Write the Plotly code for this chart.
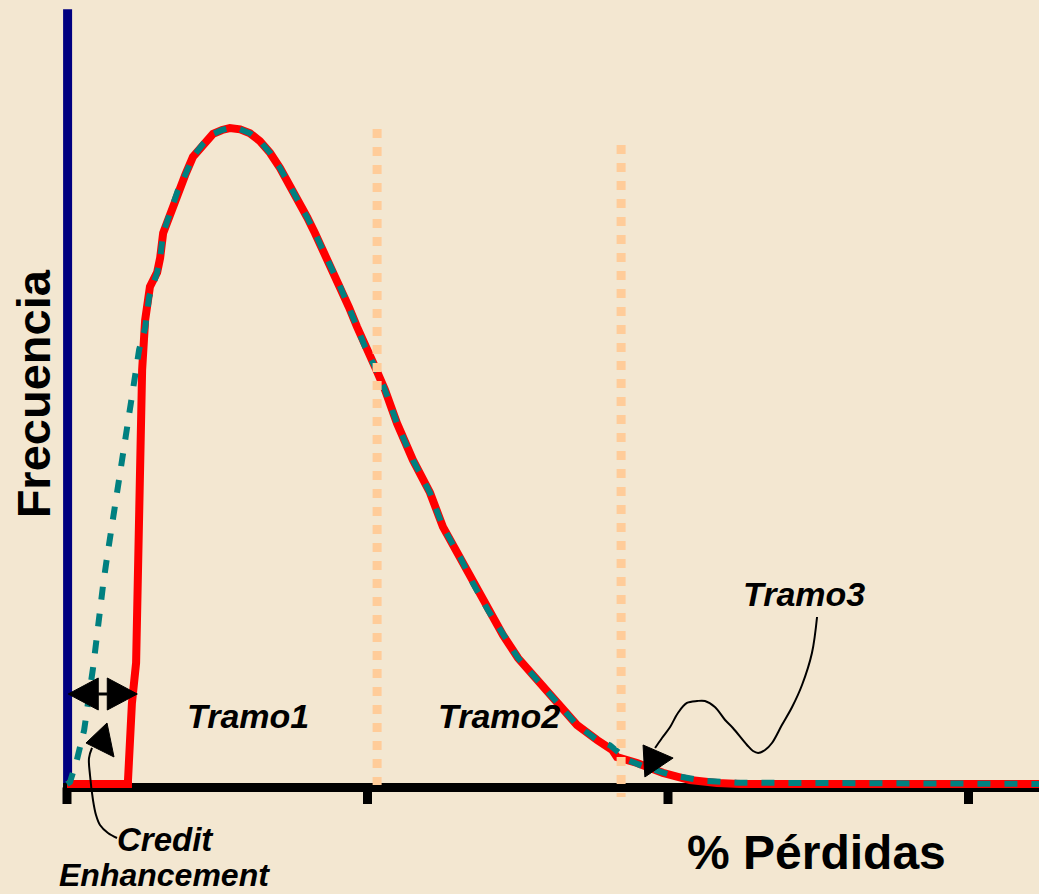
import plotly.graph_objects as go

# ---------------- data ----------------
# x: % pérdidas (ticks at 0, 10, 20, 30), y: frecuencia (peak = 100)
perdida_rojo = [0, 2.03, 2.03, 2.16, 2.30, 2.36, 2.43, 2.50, 2.60, 2.76, 3.00, 3.10, 3.20, 3.43,
                3.69, 3.93, 4.19, 4.53, 4.86, 5.16, 5.42, 5.76, 6.09, 6.42, 6.76, 7.09, 7.42, 7.75,
                7.99, 8.25, 8.52, 8.82, 9.09, 9.38, 9.65, 9.92, 10.25, 10.58, 10.98, 11.51, 12.08,
                12.51, 13.08, 13.51, 14.01, 14.51, 15.01, 15.64, 16.31, 16.97, 17.64, 18.14, 18.30,
                18.97, 19.83, 20.73, 21.63, 22.40, 33.0]
frec_rojo = [0, 0, 0.6, 12.3, 18.5, 37.7, 52.9, 63.1, 70.7, 75.8, 78.0, 80.2, 84.0, 87.0, 90.5,
             92.8, 95.6, 97.6, 99.1, 99.7, 100, 99.8, 99.2, 98.0, 96.2, 93.9, 91.3, 88.6, 86.4,
             84.0, 81.4, 78.7, 75.8, 72.7, 69.7, 66.6, 63.6, 60.1, 55.0, 49.4, 44.4, 39.2, 34.6,
             30.6, 26.5, 22.7, 19.2, 15.9, 12.3, 9.0, 6.7, 5.2, 4.1, 3.2, 1.7, 0.6, 0.15, 0, 0]

perdida_verde = [0.0, 0.10, 0.33, 0.57, 0.87, 1.03, 1.20, 1.33, 1.53, 1.70, 1.90, 2.03, 2.20, 2.40,
                 2.60, 2.73, 3.00, 3.10, 3.20, 3.43, 3.69, 3.93, 4.19, 4.53, 4.86, 5.16, 5.42, 5.76,
                 6.09, 6.42, 6.76, 7.09, 7.42, 7.75, 7.99, 8.25, 8.52, 8.82, 9.09, 9.38, 9.65, 9.92,
                 10.25, 10.58, 10.98, 11.51, 12.08, 12.51, 13.08, 13.51, 14.01, 14.51, 15.01, 15.64,
                 16.31, 16.97, 17.64, 18.07, 18.64, 19.17, 20.07, 21.16, 22.30, 33.0]
frec_verde = [0.0, 0.3, 3.7, 8.2, 17.8, 24.5, 30.3, 34.5, 40.5, 46.6, 51.2, 55.9, 61.6, 66.2, 69.5,
              74.2, 78.0, 80.2, 84.0, 87.0, 90.5, 92.8, 95.6, 97.6, 99.1, 99.7, 100, 99.8, 99.2,
              98.0, 96.2, 93.9, 91.3, 88.6, 86.4, 84.0, 81.4, 78.7, 75.8, 72.7, 69.7, 66.6, 63.6,
              60.1, 55.0, 49.4, 44.4, 39.2, 34.6, 30.6, 26.5, 22.7, 19.2, 15.9, 12.3, 9.0, 6.7,
              5.9, 3.7, 2.7, 1.4, 0.5, 0.2, 0.0]

tick_vals = [0, 10, 20, 30]
tramo_limites = [10.32, 18.44]          # attachment points (dotted lines)
credit_enhancement = [0.04, 2.34]       # span of the double arrow

labels = {"tramo1": "Tramo1", "tramo2": "Tramo2", "tramo3": "Tramo3",
          "credit": "Credit", "enh": "Enhancement",
          "xtitle": "% Pérdidas", "ytitle": "Frecuencia"}

# ---------------- styling ----------------
BG = "#F3E7D1"
RED = "#FF0000"
TEAL = "#008080"
PEACH = "#FFCC99"
NAVY = "#000080"
FONT = "Liberation Sans, Arial, sans-serif"

X_RANGE = [-2.2296, 32.346]
Y_RANGE = [-16.768, 119.512]


def tri(pts):
    return "M " + " L ".join(f"{x},{y}" for x, y in pts) + " Z"


fig = go.Figure()

fig.add_trace(go.Scatter(x=perdida_rojo, y=frec_rojo, mode="lines",
                         line=dict(color=RED, width=8), hoverinfo="skip"))
fig.add_trace(go.Scatter(x=perdida_verde, y=frec_verde, mode="lines",
                         line=dict(color=TEAL, width=6, dash="13px,14px"), hoverinfo="skip"))

# connector curves of the callouts
credit_curve_x = [1.664, 1.364, 1.098, 0.965, 0.865, 0.765, 0.732, 0.832]
credit_curve_y = [-8.23, -7.47, -6.25, -4.73, -2.44, 1.37, 3.96, 5.49]
fig.add_trace(go.Scatter(x=credit_curve_x, y=credit_curve_y, mode="lines",
                         line=dict(color="black", width=2, shape="spline"), hoverinfo="skip"))
tramo3_curve_x = [24.96, 24.79, 24.46, 24.13, 23.79, 23.46, 23.23, 23.00, 22.83, 22.63, 22.16,
                  21.90, 21.56, 21.23, 20.97, 20.63, 20.33, 20.07, 19.80, 19.57]
tramo3_curve_y = [25.46, 19.97, 15.09, 11.74, 8.99, 6.25, 5.18, 4.73, 5.03, 5.95, 8.54,
                  9.76, 11.74, 12.65, 12.65, 12.35, 10.82, 8.69, 7.01, 5.49]
fig.add_trace(go.Scatter(x=tramo3_curve_x, y=tramo3_curve_y, mode="lines",
                         line=dict(color="black", width=2, shape="spline"), hoverinfo="skip"))

shapes = []
# y axis (navy)
shapes.append(dict(type="line", xref="x", yref="y", x0=0.02, x1=0.02, y0=-0.9, y1=118.1,
                   line=dict(color=NAVY, width=9), layer="below"))
# x axis (black) + ticks
shapes.append(dict(type="line", xref="x", yref="y", x0=-0.13, x1=33, y0=-0.53, y1=-0.53,
                   line=dict(color="black", width=9), layer="below"))
for t in tick_vals:
    shapes.append(dict(type="line", xref="x", yref="y", x0=t, x1=t, y0=-0.53, y1=-3.05,
                       line=dict(color="black", width=9), layer="below"))
# tranche boundaries
shapes.append(dict(type="line", xref="x", yref="y", x0=tramo_limites[0], x1=tramo_limites[0],
                   y0=99.85, y1=-0.15, line=dict(color=PEACH, width=9, dash="dot"), layer="above"))
shapes.append(dict(type="line", xref="x", yref="y", x0=tramo_limites[1], x1=tramo_limites[1],
                   y0=97.4, y1=-1.98, line=dict(color=PEACH, width=9, dash="dot"), layer="above"))

# double arrow (credit enhancement)
a0, a1 = credit_enhancement
ya = 13.72
head = 1.0
shapes.append(dict(type="line", xref="x", yref="y", x0=a0 + head, x1=a1 - head, y0=ya, y1=ya,
                   line=dict(color="black", width=3), layer="above"))
shapes.append(dict(type="path", xref="x", yref="y",
                   path=tri([(a0, ya), (a0 + head, ya + 2.44), (a0 + head, ya - 2.44)]),
                   fillcolor="black", line=dict(color="black", width=1), layer="above"))
shapes.append(dict(type="path", xref="x", yref="y",
                   path=tri([(a1, ya), (a1 - head, ya + 2.44), (a1 - head, ya - 2.44)]),
                   fillcolor="black", line=dict(color="black", width=1), layer="above"))
# callout arrowheads
shapes.append(dict(type="path", xref="x", yref="y",
                   path=tri([(0.632, 6.25), (1.331, 9.30), (1.564, 4.12)]),
                   fillcolor="black", line=dict(color="black", width=1), layer="above"))
shapes.append(dict(type="path", xref="x", yref="y",
                   path=tri([(19.17, 5.95), (20.17, 3.96), (19.23, 1.07)]),
                   fillcolor="black", line=dict(color="black", width=1), layer="above"))


def txt(x, y, s, size, italic=True, angle=0):
    return dict(x=x, y=y, xref="x", yref="y", text=s, showarrow=False,
                xanchor="center", yanchor="middle", textangle=angle,
                font=dict(family=FONT, size=size, color="black", weight="bold",
                          style="italic" if italic else "normal"))


annotations = [
    txt(6.02, 10.3, labels["tramo1"], 34),
    txt(14.38, 10.3, labels["tramo2"], 34),
    txt(24.53, 28.9, labels["tramo3"], 34),
    txt(3.29, -8.4, labels["credit"], 33),
    txt(3.26, -13.9, labels["enh"], 32),
    txt(24.93, -10.5, labels["xtitle"], 48, italic=False),
    txt(-1.12, 59.45, labels["ytitle"], 47, italic=False, angle=-90),
]

fig.update_layout(
    width=1039, height=894,
    margin=dict(l=0, r=0, t=0, b=0),
    paper_bgcolor=BG, plot_bgcolor=BG,
    showlegend=False,
    xaxis=dict(range=X_RANGE, visible=False, fixedrange=True),
    yaxis=dict(range=Y_RANGE, visible=False, fixedrange=True),
    shapes=shapes,
    annotations=annotations,
)

fig.write_html(
    "out.html",
    config={"displayModeBar": False},
    post_script="document.body.style.margin='0';document.body.style.overflow='hidden';"
                "document.body.style.background='" + BG + "';",
)
